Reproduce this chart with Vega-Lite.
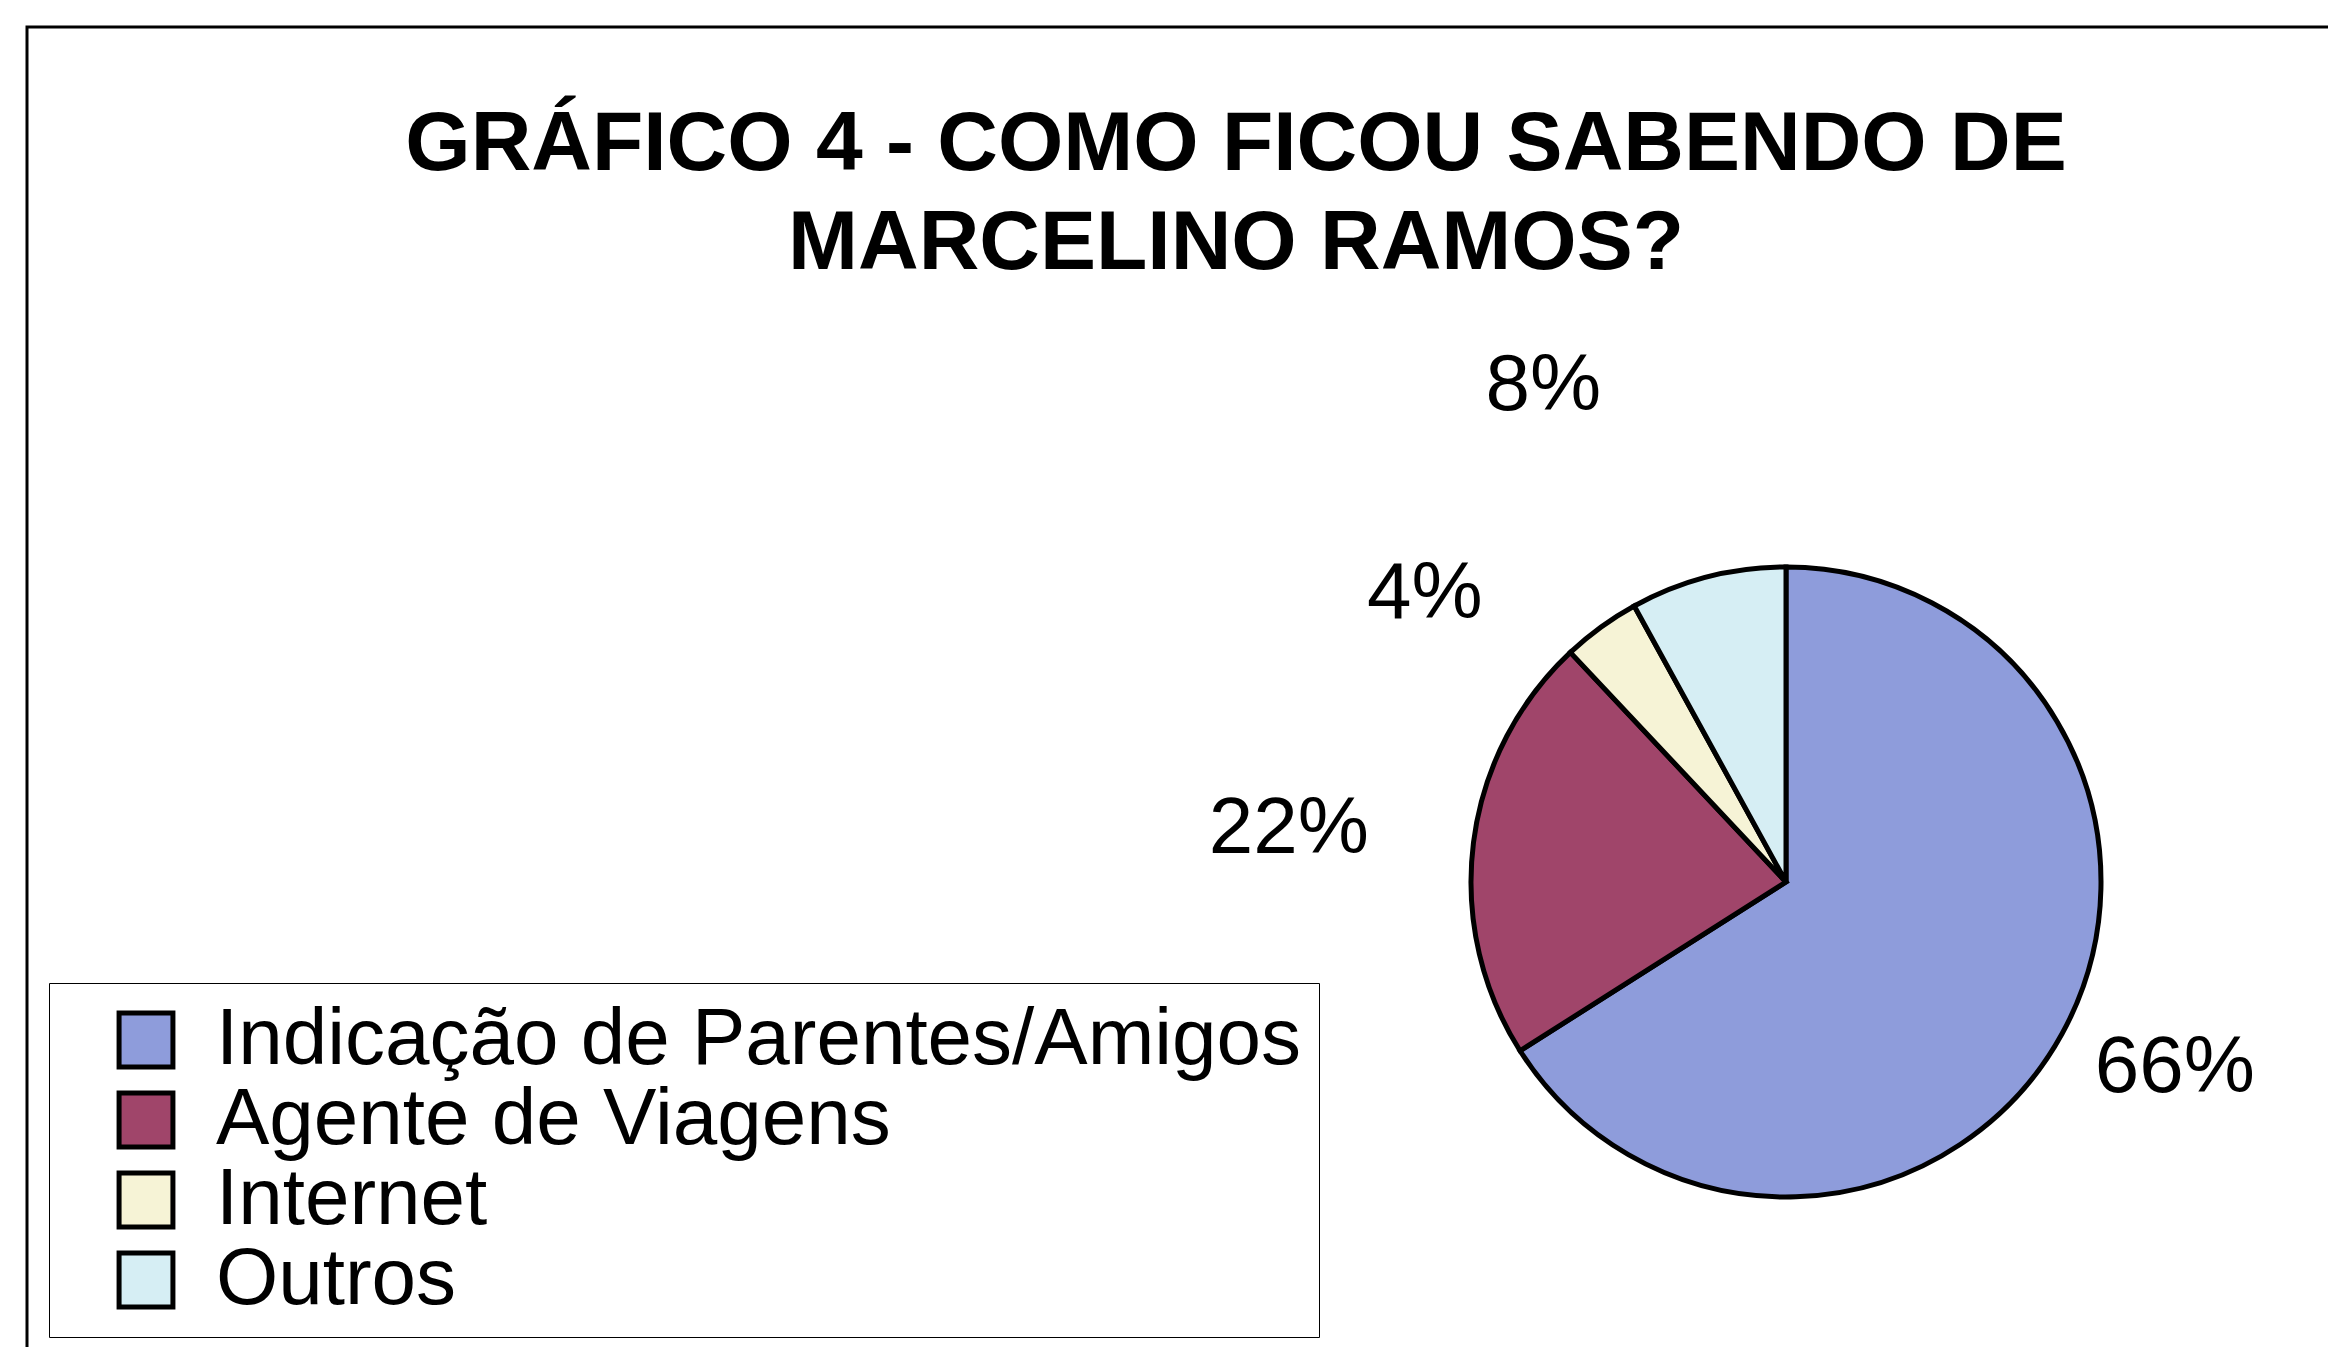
{
  "$schema": "https://vega.github.io/schema/vega-lite/v6.json",
  "autosize": "none",
  "width": 3518,
  "height": 1710,
  "padding": {"left": 27, "top": 27, "right": 0, "bottom": 0},
  "background": "white",
  "view": {"stroke": "black", "strokeWidth": 3},
  "config": {
    "view": {"stroke": "black", "strokeWidth": 3},
    "font": "Liberation Sans"
  },
  "title": {
    "text": ["GRÁFICO 4 - COMO FICOU SABENDO DE", "MARCELINO RAMOS?"],
    "anchor": "middle",
    "font": "Liberation Sans",
    "fontSize": 84,
    "fontWeight": "bold",
    "color": "black",
    "lineHeight": 99,
    "baseline": "top",
    "offset": -181,
    "dx": -550,
    "dy": 79
  },
  "data": {
    "values": [
      {"categoria": "Indicação de Parentes/Amigos", "pct": 0.66, "ordem": 1},
      {"categoria": "Agente de Viagens", "pct": 0.22, "ordem": 2},
      {"categoria": "Internet", "pct": 0.04, "ordem": 3},
      {"categoria": "Outros", "pct": 0.08, "ordem": 4}
    ]
  },
  "encoding": {
    "theta": {"field": "pct", "type": "quantitative", "stack": true},
    "order": {"field": "ordem", "type": "quantitative"}
  },
  "layer": [
    {
      "mark": {"type": "arc", "radius": 315, "stroke": "black", "strokeWidth": 5},
      "encoding": {
        "color": {
          "field": "categoria",
          "type": "nominal",
          "sort": ["Indicação de Parentes/Amigos", "Agente de Viagens", "Internet", "Outros"],
          "scale": {
            "domain": ["Indicação de Parentes/Amigos", "Agente de Viagens", "Internet", "Outros"],
            "range": ["#8E9CDB", "#A0456A", "#F6F3D6", "#D6EEF4"]
          },
          "legend": {
            "orient": "none",
            "legendX": 22,
            "legendY": 956,
            "title": " ",
            "titleOrient": "left",
            "titleFontSize": 10,
            "titlePadding": 40,
            "labelFont": "Liberation Sans",
            "labelFontSize": 80,
            "labelColor": "black",
            "labelLimit": 0,
            "labelOffset": 30,
            "symbolType": "square",
            "symbolSize": 2900,
            "symbolStrokeWidth": 5,
            "symbolStrokeColor": "black",
            "rowPadding": 0,
            "padding": 17,
            "strokeColor": "black",
            "fillColor": "white"
          }
        }
      }
    },
    {
      "mark": {"type": "text", "radius": 431, "thetaOffset": -0.056, "font": "Liberation Sans", "fontSize": 80, "color": "black"},
      "encoding": {
        "text": {"condition": {"test": "datum.categoria == 'Indicação de Parentes/Amigos'", "field": "pct", "type": "quantitative", "format": ".0%"}, "value": ""}
      }
    },
    {
      "mark": {"type": "text", "radius": 500, "thetaOffset": -0.02, "font": "Liberation Sans", "fontSize": 80, "color": "black"},
      "encoding": {
        "text": {"condition": {"test": "datum.categoria == 'Agente de Viagens'", "field": "pct", "type": "quantitative", "format": ".0%"}, "value": ""}
      }
    },
    {
      "mark": {"type": "text", "radius": 462, "thetaOffset": -0.269, "font": "Liberation Sans", "fontSize": 80, "color": "black"},
      "encoding": {
        "text": {"condition": {"test": "datum.categoria == 'Internet'", "field": "pct", "type": "quantitative", "format": ".0%"}, "value": ""}
      }
    },
    {
      "mark": {"type": "text", "radius": 552, "thetaOffset": -0.204, "font": "Liberation Sans", "fontSize": 80, "color": "black"},
      "encoding": {
        "text": {"condition": {"test": "datum.categoria == 'Outros'", "field": "pct", "type": "quantitative", "format": ".0%"}, "value": ""}
      }
    }
  ]
}
